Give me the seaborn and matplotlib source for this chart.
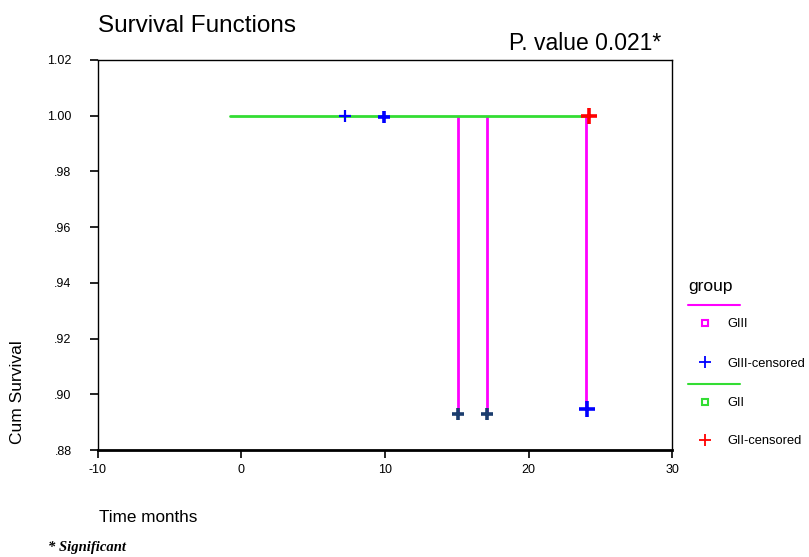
import matplotlib
matplotlib.use("Agg")
import matplotlib.pyplot as plt
import seaborn as sns
import pandas as pd
import numpy as np
from matplotlib.lines import Line2D
from matplotlib.ticker import FixedLocator, FuncFormatter

sns.set_theme(style="white")
plt.rcParams['font.family'] = ['Liberation Sans', 'DejaVu Sans']
plt.rcParams['axes.unicode_minus'] = False
plt.rcParams['text.color'] = 'black'
plt.rcParams['xtick.color'] = 'black'
plt.rcParams['ytick.color'] = 'black'
plt.rcParams['axes.labelcolor'] = 'black'

# --- data ---
gii_time = [-0.8, 24.1]
gii_surv = [1.0, 1.0]
giii_drop_times = [15.1, 17.1, 24.0]
giii_drop_low = [0.893, 0.893, 0.8947]
giii_cens_top_time = [7.2, 9.9]
giii_cens_top_surv = [1.0, 0.9997]
giii_cens_low_time = [15.1, 17.1]
giii_cens_low_surv = [0.893, 0.893]
giii_cens_end_time = [24.1]
giii_cens_end_surv = [0.8947]
gii_cens_time = [24.2]
gii_cens_surv = [1.0]

y_ticks = [0.88, 0.90, 0.92, 0.94, 0.96, 0.98, 1.00, 1.02]
x_ticks = [-10, 0, 10, 20, 30]

MAG = "#ff00ff"
GRN = "#33dd33"
BLU = "#0000ff"
NAVY = "#1b3d6e"
RED = "#ff0000"

fig = plt.figure(figsize=(8.09, 5.57), dpi=100)
ax = fig.add_axes([0.1211, 0.1921, 0.7096, 0.7002])

# magenta vertical drops
ax.vlines(giii_drop_times, giii_drop_low, [1.0] * len(giii_drop_times), color=MAG, lw=2, zorder=2)
# green line
sns.lineplot(x=gii_time, y=gii_surv, ax=ax, color=GRN, lw=2, zorder=3, sort=False)

ms = 9
sns.scatterplot(x=giii_cens_top_time[:1], y=giii_cens_top_surv[:1], ax=ax, marker="+", color=BLU,
                s=ms ** 2, linewidth=1.6, zorder=5)
sns.scatterplot(x=giii_cens_top_time[1:], y=giii_cens_top_surv[1:], ax=ax, marker="+", color=BLU,
                s=ms ** 2, linewidth=2.6, zorder=5)
sns.scatterplot(x=giii_cens_low_time, y=giii_cens_low_surv, ax=ax, marker="+", color=NAVY,
                s=ms ** 2, linewidth=2.6, zorder=5)
sns.scatterplot(x=giii_cens_end_time, y=giii_cens_end_surv, ax=ax, marker="+", color=BLU,
                s=11 ** 2, linewidth=2.6, zorder=5)
sns.scatterplot(x=gii_cens_time, y=gii_cens_surv, ax=ax, marker="+", color=RED,
                s=11 ** 2, linewidth=2.6, zorder=6)

ax.set_xlim(-10, 30)
ax.set_ylim(0.88, 1.02)
ax.yaxis.set_major_locator(FixedLocator(y_ticks))
ax.xaxis.set_major_locator(FixedLocator(x_ticks))

def yfmt(v, pos):
    s = f"{v:.2f}"
    if s.startswith("0"):
        s = s[1:]
    return s

ax.yaxis.set_major_formatter(FuncFormatter(yfmt))
ax.tick_params(axis="both", which="major", direction="out", length=6, width=1.2,
               color="black", labelcolor="black", labelsize=9, pad=4, left=True, bottom=True)
ax.tick_params(axis="y", pad=13)
for sp in ax.spines.values():
    sp.set_color("black")
    sp.set_linewidth(1)
ax.spines["bottom"].set_linewidth(2)
ax.set_xlabel("")
ax.set_ylabel("")

# texts
fig.text(98 / 809, 1 - 26 / 557, "Survival Functions", fontsize=17.5, va="center", ha="left", color="black")
fig.text(509 / 809, 1 - 44 / 557, "P. value 0.021*", fontsize=16.5, va="center", ha="left", color="black")
fig.text(18 / 809, 1 - 392 / 557, "Cum Survival", fontsize=12.5, rotation=90, va="center", ha="center",
         color="black")
fig.text(99 / 809, 1 - 517 / 557, "Time months", fontsize=12.3, va="center", ha="left", color="black")
fig.text(48 / 809, 1 - 548 / 557, "* Significant", fontsize=10.5, va="center", ha="left",
         family=["Liberation Serif", "DejaVu Serif"], style="italic", weight="bold", color="black")

# legend (drawn manually to mimic SPSS layout)
def fx(x):
    return x / 809

def fy(y):
    return 1 - y / 557

fig.text(fx(688), fy(286), "group", fontsize=12.5, va="center", ha="left", color="black")
fig.add_artist(Line2D([fx(688), fx(740)], [fy(305), fy(305)], color=MAG, lw=1.5))
fig.add_artist(Line2D([fx(705)], [fy(323)], marker="s", ms=5, mfc="white", mec=MAG, mew=1.5, ls=""))
fig.text(fx(727), fy(324), "GIII", fontsize=9.3, va="center", ha="left", color="black")
fig.add_artist(Line2D([fx(705)], [fy(362)], marker="+", ms=9, color=BLU, mew=1.3, ls=""))
fig.text(fx(727), fy(364), "GIII-censored", fontsize=9.3, va="center", ha="left", color="black")
fig.add_artist(Line2D([fx(688), fx(740)], [fy(384), fy(384)], color=GRN, lw=1.5))
fig.add_artist(Line2D([fx(705)], [fy(402)], marker="s", ms=5, mfc="white", mec=GRN, mew=1.5, ls=""))
fig.text(fx(727), fy(403), "GII", fontsize=9.3, va="center", ha="left", color="black")
fig.add_artist(Line2D([fx(705)], [fy(440)], marker="+", ms=9, color=RED, mew=1.3, ls=""))
fig.text(fx(727), fy(441), "GII-censored", fontsize=9.3, va="center", ha="left", color="black")

fig.savefig("out.png", dpi=100)
